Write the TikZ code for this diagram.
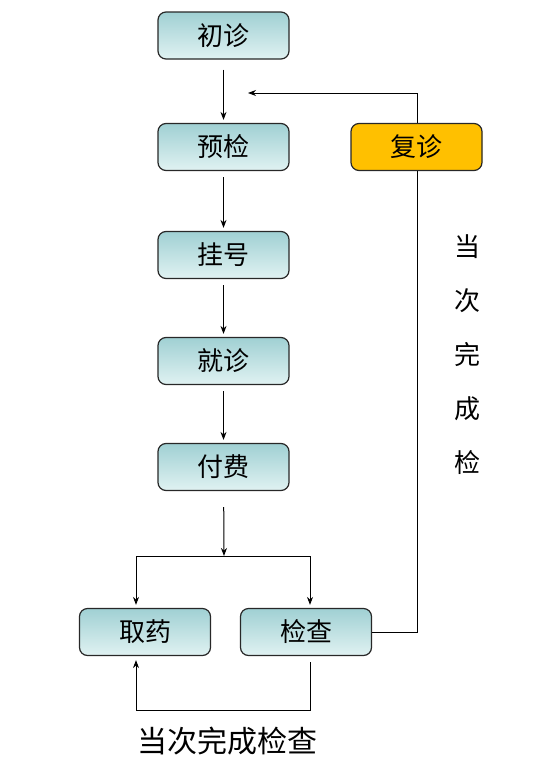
\documentclass[tikz,border=0pt]{standalone}
\usepackage{fontspec}
\usetikzlibrary{arrows.meta}
\newfontfamily\cjk{Noto Sans CJK SC}
\definecolor{boxtop}{RGB}{160,208,211}
\definecolor{boxbot}{RGB}{224,242,242}
\definecolor{boxline}{RGB}{40,40,40}
\definecolor{gold}{RGB}{255,192,0}
\tikzset{
  stepbox/.style={draw=boxline, line width=1.2pt, rounded corners=8pt,
    minimum width=131pt, minimum height=47pt, inner sep=0pt,
    top color=boxtop, bottom color=boxbot, font=\cjk\fontsize{26}{30}\selectfont},
  goldbox/.style={stepbox, top color=gold, bottom color=gold, fill=gold},
  link/.style={line width=1pt}
}
\begin{document}
\begin{tikzpicture}[>={Stealth[length=8pt,width=6pt]}, x=1pt, y=-1pt]
	\useasboundingbox (0,0) rectangle (541,771);
	% Các bước khám chính
	\node[stepbox] (chuzhen) at (223.5,35.5) {初诊};
	\node[stepbox] (yujian) at (223.5,147) {预检};
	\node[stepbox] (guahao) at (223.5,255) {挂号};
	\node[stepbox] (jiuzhen) at (223.5,361) {就诊};
	\node[stepbox] (fufei) at (223.5,467) {付费};
	\node[stepbox] (quyao) at (145,632) {取药};
	\node[stepbox] (jiancha) at (306,632) {检查};
	\node[goldbox] (fuzhen) at (416.5,147) {复诊};
	
	% Các điểm phụ
	\coordinate (fork) at (224,556);
	\coordinate (back) at (248,93);
	
	% Mũi tên đi xuống
	\draw[link, ->, shorten <=10pt, shorten >=3pt] (chuzhen) -- (yujian);
	\draw[link, ->, shorten <=6pt, shorten >=3pt] (yujian) -- (guahao);
	\draw[link, ->, shorten <=6pt, shorten >=3pt] (guahao) -- (jiuzhen);
	\draw[link, ->, shorten <=6pt, shorten >=3pt] (jiuzhen) -- (fufei);
	\draw[link, ->, shorten <=16pt] (fufei) -- (fork);
	\draw[link, ->, shorten >=3pt] (fork) -| ([xshift=-9pt]quyao.north);
	\draw[link, ->, shorten >=3pt] (fork) -| ([xshift=4pt]jiancha.north);
	
	% Vòng quay lại
	\draw[link, ->, shorten >=4pt] ([xshift=4pt,yshift=-6pt]jiancha.south) -- ++(0,48) -| ([xshift=-9pt]quyao.south);
	\draw[link] (jiancha.east) -| ([xshift=0.5pt]fuzhen.south);
	\draw[link, ->] ([xshift=0.5pt]fuzhen.north) |- (back);
	
	% Chữ chú thích
	\node[font=\cjk\fontsize{26}{54}\selectfont, align=center, inner sep=0pt] (dangci) at (467,355) {当\\次\\完\\成\\检};
	\node[font=\cjk\fontsize{30}{34}\selectfont, inner sep=0pt] (wancheng) at (227,741) {当次完成检查};
\end{tikzpicture}
\end{document}
